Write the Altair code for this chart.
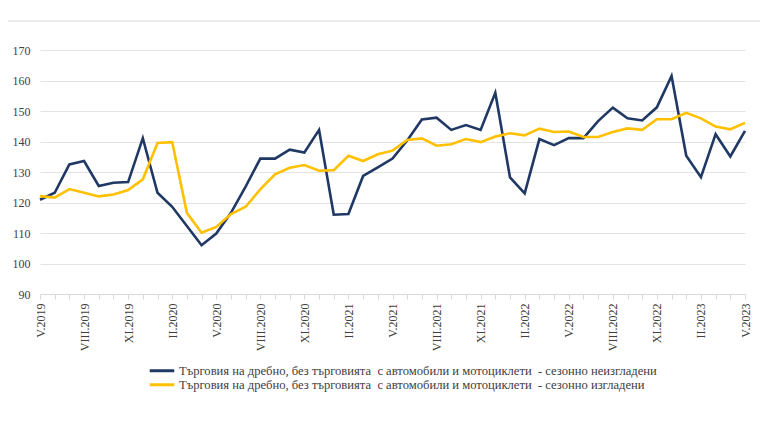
import altair as alt
import pandas as pd

months = [
    "V.2019", "VI.2019", "VII.2019", "VIII.2019", "IX.2019", "X.2019", "XI.2019", "XII.2019",
    "I.2020", "II.2020", "III.2020", "IV.2020", "V.2020", "VI.2020", "VII.2020", "VIII.2020",
    "IX.2020", "X.2020", "XI.2020", "XII.2020",
    "I.2021", "II.2021", "III.2021", "IV.2021", "V.2021", "VI.2021", "VII.2021", "VIII.2021",
    "IX.2021", "X.2021", "XI.2021", "XII.2021",
    "I.2022", "II.2022", "III.2022", "IV.2022", "V.2022", "VI.2022", "VII.2022", "VIII.2022",
    "IX.2022", "X.2022", "XI.2022", "XII.2022",
    "I.2023", "II.2023", "III.2023", "IV.2023", "V.2023",
]

shown_labels = [
    "V.2019", "VIII.2019", "XI.2019", "II.2020", "V.2020", "VIII.2020", "XI.2020",
    "II.2021", "V.2021", "VIII.2021", "XI.2021", "II.2022", "V.2022", "VIII.2022",
    "XI.2022", "II.2023", "V.2023",
]

not_adjusted = [
    120.9, 123.2, 132.5, 133.6, 125.4, 126.5, 126.7, 141.1,
    123.2, 118.6, 112.3, 106.0, 109.8, 116.6, 125.2, 134.4,
    134.4, 137.3, 136.4, 143.8,
    116.0, 116.2, 128.7, 131.5, 134.4, 140.3, 147.2, 147.8,
    143.8, 145.4, 143.8, 156.0,
    128.2, 123.0, 140.8, 138.8, 141.1, 141.1, 146.7, 151.1,
    147.6, 146.9, 151.2, 161.5,
    135.3, 128.3, 142.4, 135.1, 143.5,
]

adjusted = [
    122.1, 121.6, 124.4, 123.2, 122.0, 122.6, 124.1, 127.6,
    139.5, 139.8, 116.6, 110.1, 112.0, 116.2, 118.6, 124.3,
    129.2, 131.4, 132.3, 130.4,
    130.6, 135.3, 133.6, 135.8, 137.0, 140.5, 141.0, 138.6,
    139.1, 140.8, 139.8, 141.6,
    142.7, 142.0, 144.2, 143.1, 143.3, 141.5, 141.5, 143.1,
    144.3, 143.8, 147.3, 147.3,
    149.4, 147.6, 144.9, 144.0, 146.1,
]

series_names = [
    "Търговия на дребно, без търговията \u00a0с автомобили и мотоциклети \u00a0- сезонно неизгладени",
    "Търговия на дребно, без търговията \u00a0с автомобили и мотоциклети \u00a0- сезонно изгладени",
]
series_colors = ["#203864", "#FFC000"]

rows = []
for i, m in enumerate(months):
    rows.append({"month": m, "order": i, "series": series_names[0], "value": not_adjusted[i], "s": 0})
for i, m in enumerate(months):
    rows.append({"month": m, "order": i, "series": series_names[1], "value": adjusted[i], "s": 1})
df = pd.DataFrame(rows)

font = "Liberation Serif"
shown_js = "[" + ",".join("'" + s + "'" for s in shown_labels) + "]"

lines = alt.Chart(df).mark_line(strokeWidth=2.6, strokeJoin="miter").encode(
    x=alt.X(
        "month:O",
        sort=months,
        scale=alt.Scale(type="point", padding=0),
        axis=alt.Axis(
            title=None,
            labelAngle=-90,
            labelAlign="right",
            labelBaseline="middle",
            labelFont=font,
            labelFontSize=12,
            labelColor="#404040",
            labelPadding=4,
            labelExpr="indexof(" + shown_js + ", datum.value) >= 0 ? datum.value : ''",
            labelOverlap=False,
            domainColor="#d9d9d9",
            tickColor="#d9d9d9",
            tickSize=5,
            grid=False,
        ),
    ),
    y=alt.Y(
        "value:Q",
        scale=alt.Scale(domain=[90, 170], nice=False, zero=False),
        axis=alt.Axis(
            title=None,
            values=[90, 100, 110, 120, 130, 140, 150, 160, 170],
            labelFont=font,
            labelFontSize=12,
            labelColor="#404040",
            labelPadding=10,
            ticks=False,
            domain=False,
            gridColor="#e3e3e3",
            gridWidth=1,
        ),
    ),
    color=alt.Color(
        "series:N",
        scale=alt.Scale(domain=series_names, range=series_colors),
        legend=alt.Legend(
            title=None,
            orient="none",
            legendX=108,
            legendY=314,
            direction="vertical",
            symbolType="stroke",
            symbolSize=600,
            symbolStrokeWidth=3,
            labelFont=font,
            labelFontSize=12.6,
            labelColor="#404040",
            labelLimit=0,
            labelOffset=3,
            rowPadding=0,
            clipHeight=13.5,
            symbolOffset=0,
        ),
    ),
    order=alt.Order("s:Q"),
)

topline = alt.Chart(pd.DataFrame({"a": [0]})).mark_rule(color="#e6e6e6", strokeWidth=1.5).encode(
    x=alt.value(-40), x2=alt.value(720), y=alt.value(-29)
)

chart = alt.layer(topline, lines).properties(
    width=705,
    height=244,
    padding={"left": 32, "top": 42, "right": 15, "bottom": 130},
    autosize=alt.AutoSizeParams(type="none"),
).configure_view(stroke=None)

chart.save("out.html", embed_options={"renderer": "svg", "actions": False})
